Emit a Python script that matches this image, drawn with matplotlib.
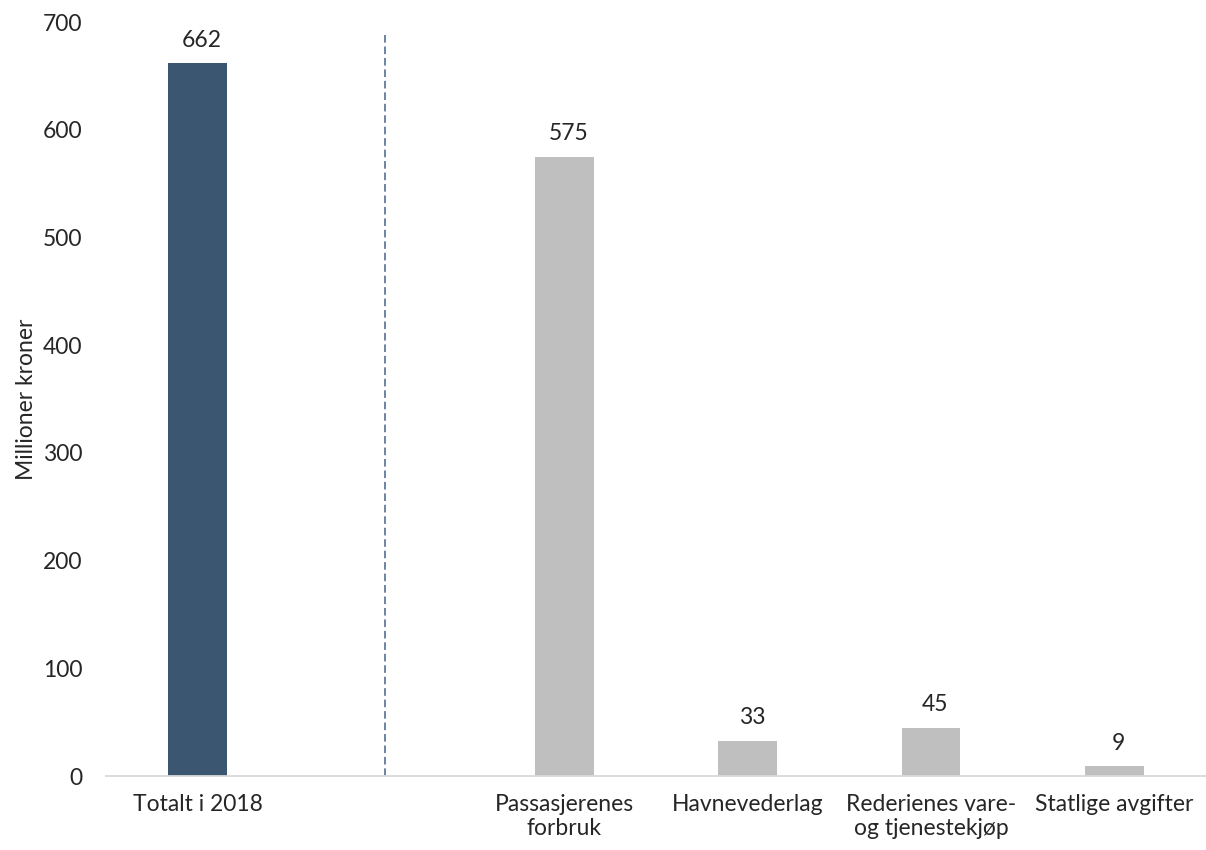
import numpy as np
import matplotlib.pyplot as plt

plt.rcParams['font.family'] = ['Lato', 'DejaVu Sans']

# kategorier og verdier (mill. kr), tom plass mellom total og delposter
categories = ['Totalt i 2018', '', 'Passasjerenes\nforbruk', 'Havnevederlag',
              'Rederienes vare-\nog tjenestekjøp', 'Statlige avgifter']
values = [662, np.nan, 575, 33, 45, 9]
bar_colors = ['#3A5670', '#BFBFBF', '#BFBFBF', '#BFBFBF', '#BFBFBF', '#BFBFBF']
yticks = [0, 100, 200, 300, 400, 500, 600, 700]

text_color = '#262626'
fs = 16.5

fig = plt.figure(figsize=(12.06, 8.5), dpi=100)
ax = fig.add_axes([0.088, 0.087, 0.912, 0.887])

x = np.arange(len(categories))
ax.bar(x, values, width=0.32, color=bar_colors, zorder=2)

# verditekst over søylene
for xi, v in zip(x, values):
    if not np.isnan(v):
        ax.annotate(f'{v:.0f}', xy=(xi, v), xytext=(3, 9), textcoords='offset points',
                    ha='center', va='bottom', fontsize=fs, color=text_color)

# skillelinje mellom total og delposter
ax.plot([1.02, 1.02], [0, 690], linestyle=(0, (5, 2.5)), color='#44628A', linewidth=1.1)

ax.set_xlim(-0.5, len(categories) - 0.5)
ax.set_ylim(0, 700)
ax.set_yticks(yticks)
ax.set_xticks(x)
ax.set_xticklabels(categories, fontsize=fs, color=text_color, linespacing=1.15)
ax.tick_params(axis='y', length=0, pad=17, labelsize=fs, labelcolor=text_color)
ax.tick_params(axis='x', length=0, pad=13)

for side in ['top', 'right', 'left']:
    ax.spines[side].set_visible(False)
ax.spines['bottom'].set_color('#D9D9D9')
ax.spines['bottom'].set_linewidth(1.3)

ax.set_ylabel('Millioner kroner', fontsize=fs, color=text_color, labelpad=4)

fig.savefig('out.png', dpi=100)
